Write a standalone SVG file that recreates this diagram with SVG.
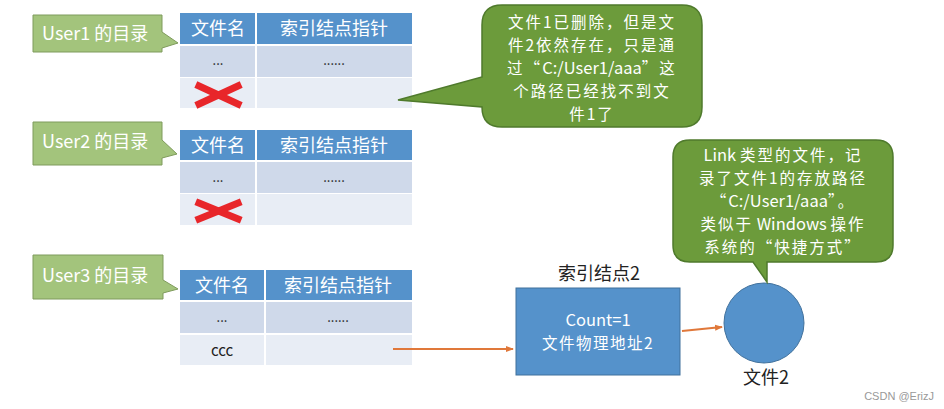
<svg xmlns="http://www.w3.org/2000/svg" width="944" height="409" viewBox="0 0 944 409">
<defs>
<marker id="ah" markerWidth="8" markerHeight="8" refX="7" refY="4" orient="auto" markerUnits="userSpaceOnUse">
<path d="M0,1 L8,4 L0,7 Z" fill="#E0783A"/>
</marker>
<style>
text{font-family:"Noto Sans CJK SC","Liberation Sans",sans-serif}
.lbl{fill:#A3C47C;stroke:#7F9B5C;stroke-width:1}
.lbltxt{fill:#fff;font-size:18px}
.hd{fill:#5592CB}
.r1{fill:#CFD9EA}
.r2{fill:#E8EDF5}
.hdt{fill:#fff;font-size:18px;text-anchor:middle}
.ct{fill:#222;font-size:13px;text-anchor:middle}
.sep{stroke:#fff;stroke-width:2}
.xm{stroke:#E8262A;stroke-width:7;stroke-linecap:square}
.call{fill:#6C9B3B;stroke:#4F7A2C;stroke-width:1.5}
.calt{fill:#fff;font-size:15.5px;letter-spacing:2px;text-anchor:middle}
.lat{letter-spacing:0;font-size:16.5px}
.conn{stroke:#E0783A;stroke-width:2;fill:none}
</style>
</defs>
<rect width="944" height="409" fill="#fff"/>

<g id="user1">
<path class="lbl" d="M33,15 H162 V32 L178,43 L162,48 V52 H33 Z"/>
<text class="lbltxt" x="42" y="40">User1 的目录</text>
</g>
<g id="table1">
<rect class="hd" x="180" y="13" width="232" height="31"/>
<rect class="r1" x="180" y="46" width="232" height="31"/>
<rect class="r2" x="180" y="78" width="232" height="30"/>
<line class="sep" x1="256" y1="13" x2="256" y2="108"/>
<text class="hdt" x="218" y="35">文件名</text>
<text class="hdt" x="334" y="35">索引结点指针</text>
<text class="ct" x="218" y="65">...</text>
<text class="ct" x="334" y="65">......</text>
<line class="xm" x1="199" y1="86" x2="238" y2="104"/>
<line class="xm" x1="199" y1="104" x2="238" y2="86"/>
</g>

<g id="user2">
<path class="lbl" d="M33,122 H162 V140 L177,154 L162,158 V165 H33 Z"/>
<text class="lbltxt" x="42" y="148">User2 的目录</text>
</g>
<g id="table2">
<rect class="hd" x="180" y="130" width="232" height="30"/>
<rect class="r1" x="180" y="162" width="232" height="31"/>
<rect class="r2" x="180" y="194" width="232" height="31"/>
<line class="sep" x1="256" y1="130" x2="256" y2="225"/>
<text class="hdt" x="218" y="152">文件名</text>
<text class="hdt" x="334" y="152">索引结点指针</text>
<text class="ct" x="218" y="182">...</text>
<text class="ct" x="334" y="182">......</text>
<line class="xm" x1="199" y1="203" x2="238" y2="219"/>
<line class="xm" x1="199" y1="219" x2="238" y2="203"/>
</g>

<g id="user3">
<path class="lbl" d="M33,255 H163 V280 L178,289 L163,293 V299 H33 Z"/>
<text class="lbltxt" x="42" y="282">User3 的目录</text>
</g>
<g id="table3">
<rect class="hd" x="180" y="270" width="232" height="30"/>
<rect class="r1" x="180" y="302" width="232" height="31"/>
<rect class="r2" x="180" y="335" width="232" height="30"/>
<line class="sep" x1="265" y1="270" x2="265" y2="365"/>
<text class="hdt" x="222" y="292">文件名</text>
<text class="hdt" x="338" y="292">索引结点指针</text>
<text class="ct" x="222" y="322">...</text>
<text class="ct" x="338" y="322">......</text>
<text class="ct" x="222" y="356" style="font-size:15px">ccc</text>
</g>

<g id="callout1">
<path class="call" d="M502,5 H682 Q702,5 702,25 V107 Q702,127 682,127 H502 Q482,127 482,107 V107 L398,100 L482,77 V25 Q482,5 502,5 Z"/>
<text class="calt" x="592" y="28">文件1已删除，但是文</text>
<text class="calt" x="592" y="51">件2依然存在，只是通</text>
<text class="calt" x="592" y="74">过“<tspan class="lat">C:/User1/aaa</tspan>”这</text>
<text class="calt" x="592" y="97">个路径已经找不到文</text>
<text class="calt" x="592" y="120">件1了</text>
</g>

<g id="inode2">
<text x="599" y="280" style="font-size:18px;fill:#222;text-anchor:middle">索引结点2</text>
<rect x="516" y="288" width="164" height="87" fill="#5592CB" stroke="#41719C" stroke-width="1"/>
<text class="calt" x="598" y="326"><tspan class="lat">Count=1</tspan></text>
<text class="calt" x="598" y="349" style="letter-spacing:1.5px">文件物理地址2</text>
</g>

<g id="file2">
<circle cx="764" cy="323" r="40" fill="#5592CB" stroke="#41719C" stroke-width="1"/>
<text x="766" y="384" style="font-size:18px;fill:#222;text-anchor:middle">文件2</text>
</g>

<g id="callout2">
<path class="call" d="M690,140 H876 Q893,140 893,157 V245 Q893,262 876,262 H767 V282 L753,262 H690 Q673,262 673,245 V157 Q673,140 690,140 Z"/>
<text class="calt" x="783" y="161"><tspan class="lat">Link </tspan>类型的文件，记</text>
<text class="calt" x="783" y="184">录了文件1的存放路径</text>
<text class="calt" x="783" y="207">“<tspan class="lat">C:/User1/aaa</tspan>”。</text>
<text class="calt" x="783" y="230">类似于<tspan class="lat"> Windows </tspan>操作</text>
<text class="calt" x="783" y="253">系统的“快捷方式”</text>
</g>

<g id="connectors">
<line class="conn" x1="393" y1="349" x2="513" y2="349" marker-end="url(#ah)"/>
<line class="conn" x1="682" y1="331" x2="722" y2="327" marker-end="url(#ah)"/>
</g>

<text x="934" y="400" style="font-size:11px;fill:#999;text-anchor:end;font-family:'Liberation Sans',sans-serif">CSDN @ErizJ</text>
</svg>
